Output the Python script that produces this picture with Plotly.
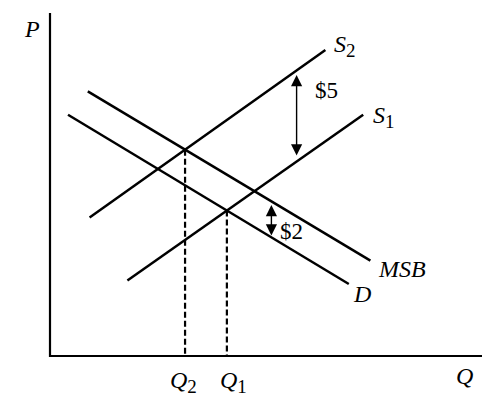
import numpy as np
import plotly.graph_objects as go

# Curve endpoints (Q, P)
d_q = [1.0, 16.6]
d_p = [13.4, 4.0]
msb_q = [2.1, 17.8]
msb_p = [14.7, 5.3]
s1_q = [4.3, 17.4]
s1_p = [4.2, 13.4]
s2_q = [2.2, 15.3]
s2_p = [7.7, 17.0]

# where the gap arrows sit
tax_q = 13.7      # $5 arrow
ben_q = 12.3      # $2 arrow


def intersect(aq, ap, bq, bp):
    ma = (ap[1] - ap[0]) / (aq[1] - aq[0]); ca = ap[0] - ma * aq[0]
    mb = (bp[1] - bp[0]) / (bq[1] - bq[0]); cb = bp[0] - mb * bq[0]
    q = (cb - ca) / (ma - mb)
    return q, ma * q + ca


q2, p2 = intersect(s2_q, s2_p, msb_q, msb_p)
q1, p1 = intersect(s1_q, s1_p, d_q, d_p)

S = 18.0  # px per unit
W, H = 500, 404
OFF = 8   # page body margin
X0, Y0 = 50 - OFF, 356 - OFF

fig = go.Figure()
solid = dict(color="black", width=2.5)
for qs, ps in [(d_q, d_p), (msb_q, msb_p), (s1_q, s1_p), (s2_q, s2_p)]:
    fig.add_trace(go.Scatter(x=qs, y=ps, mode="lines", line=solid, hoverinfo="skip"))

dash = dict(color="black", width=2.2, dash="6px,3px")
for q, p in [(q2, p2), (q1, p1)]:
    fig.add_trace(go.Scatter(x=[q, q], y=[p, 0], mode="lines", line=dash, hoverinfo="skip"))

# axes
fig.add_trace(go.Scatter(x=[0, 0, (482 - 50) / S], y=[(356 - 13) / S, 0, 0], mode="lines",
                         line=dict(color="black", width=2.2), hoverinfo="skip"))


def px(x, y):
    return (x - OFF) / W, 1 - (y - OFF) / H


font = dict(family="Liberation Serif, Times New Roman, serif", size=24, color="black")
ann = []


def label(text, x, y, xanchor="center", size=24):
    fx, fy = px(x, y)
    ann.append(dict(text=text, x=fx, y=fy, xref="paper", yref="paper", showarrow=False,
                    xanchor=xanchor, yanchor="middle", font=dict(font, size=size)))


def sub(d):
    return "<sub><span style='font-size:19px'>%s</span></sub>" % d


label("<i>P</i>", 32, 29)
label("<i>S</i>" + sub("2"), 332, 46, "left")
label("<i>S</i>" + sub("1"), 371, 117, "left")
label("<i>MSB</i>", 376, 269, "left")
label("<i>D</i>", 351, 294, "left")
label("<i>Q</i>", 464, 376)
label("<i>Q</i>" + sub("2"), 183, 382)
label("<i>Q</i>" + sub("1"), 233, 382)
label("$5", 326, 91, "center", 23)
label("$2", 291, 231, "center", 23)

# double arrows
for q, top, bot in [(tax_q, 75, 157), (ben_q, 205, 237)]:
    ann.append(dict(x=q, y=(356 - top) / S, ax=q, ay=(356 - bot) / S, xref="x", yref="y",
                    axref="x", ayref="y", showarrow=True, arrowhead=2, startarrowhead=2,
                    arrowside="end+start", arrowsize=1.6, startarrowsize=1.6,
                    arrowwidth=1.4, arrowcolor="black", text=""))

fig.update_layout(
    width=W, height=H, margin=dict(l=0, r=0, t=0, b=0),
    paper_bgcolor="white", plot_bgcolor="white", showlegend=False,
    xaxis=dict(range=[-X0 / S, (W - X0) / S], visible=False, fixedrange=True),
    yaxis=dict(range=[(Y0 - H) / S, Y0 / S], visible=False, fixedrange=True),
    annotations=ann,
)
fig.write_html("out.html")
